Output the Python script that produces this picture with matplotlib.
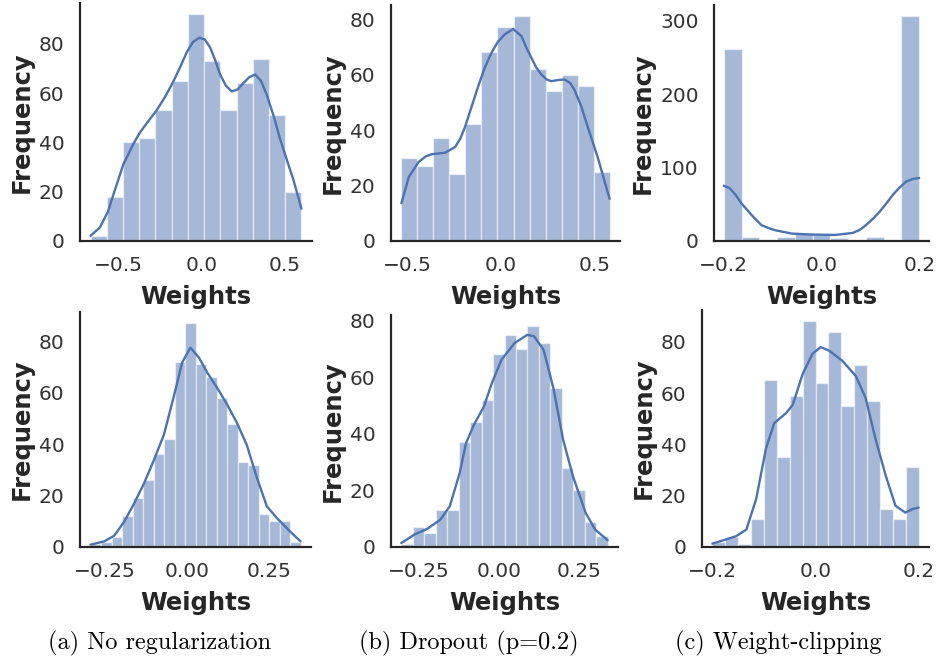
import numpy as np
import matplotlib.pyplot as plt
import seaborn as sns

sns.set_theme(style="white")

# histogram counts (top row, then bottom row)
counts_a_top = [2, 18, 40, 42, 53, 65, 92, 73, 53, 64, 74, 51, 20]
counts_b_top = [30, 27, 37, 24, 42, 68, 77, 81, 62, 54, 60, 56, 25]
counts_c_top = [261, 5, 2, 6, 11, 9, 4, 2, 5, 1, 306]
counts_a_bot = [1, 2, 4, 12, 19, 26, 36, 42, 72, 87, 71, 66, 58, 48, 33, 32, 13, 10, 10, 2]
counts_b_bot = [1, 7, 5, 13, 13, 37, 44, 52, 68, 75, 70, 78, 72, 56, 28, 20, 9, 4]
counts_c_bot = [2, 4, 1, 11, 65, 35, 59, 88, 64, 84, 55, 71, 57, 15, 11, 31]

# data range of each histogram (min, max weight)
range_a_top = (-0.665, 0.600)
range_b_top = (-0.530, 0.581)
range_c_top = (-0.200, 0.200)
range_a_bot = (-0.293, 0.344)
range_b_bot = (-0.306, 0.341)
range_c_bot = (-0.200, 0.200)

# kde curves
kde_a_top_x = [-0.665, -0.609, -0.560, -0.529, -0.469, -0.409, -0.369, -0.320, -0.269, -0.218,
               -0.168, -0.128, -0.088, -0.050, -0.012, 0.020, 0.052, 0.082, 0.112, 0.147,
               0.182, 0.217, 0.252, 0.287, 0.322, 0.357, 0.392, 0.432, 0.472, 0.512,
               0.552, 0.600]
kde_a_top_y = [2.1, 5.5, 12.0, 18.6, 31.0, 39.3, 44.0, 48.5, 53.0, 58.5,
               64.8, 70.5, 76.6, 80.8, 82.5, 81.8, 78.6, 73.5, 67.6, 63.0,
               60.7, 61.5, 64.1, 66.5, 67.6, 65.0, 59.3, 51.0, 41.4, 33.0,
               24.8, 13.1]

kde_b_top_x = [-0.530, -0.491, -0.438, -0.400, -0.367, -0.297, -0.243, -0.215, -0.190, -0.155,
               -0.120, -0.085, -0.049, -0.015, 0.022, 0.066, 0.110, 0.135, 0.163, 0.190,
               0.217, 0.245, 0.270, 0.305, 0.340, 0.370, 0.393, 0.430, 0.464, 0.517, 0.581]
kde_b_top_y = [13.6, 23.0, 28.5, 30.5, 31.3, 31.8, 33.9, 37.0, 41.2, 48.5,
               55.8, 62.5, 67.9, 71.8, 74.5, 76.4, 73.9, 70.0, 66.1, 62.5,
               60.0, 58.2, 57.6, 58.0, 58.2, 57.0, 54.5, 48.5, 41.2, 30.3, 15.2]

kde_c_top_x = [-0.200, -0.188, -0.176, -0.164, -0.143, -0.123, -0.108, -0.095, -0.061, -0.019,
               0.029, 0.064, 0.078, 0.091, 0.105, 0.119, 0.133, 0.146, 0.160, 0.174,
               0.187, 0.200]
kde_c_top_y = [75.2, 72.0, 63.0, 51.4, 35.3, 21.6, 17.5, 14.7, 10.1, 8.7,
               8.3, 11.0, 15.0, 21.6, 30.0, 39.9, 51.5, 62.8, 73.0, 81.2,
               84.5, 85.8]

kde_a_bot_x = [-0.293, -0.251, -0.221, -0.190, -0.160, -0.130, -0.100, -0.070, -0.040, -0.015,
               0.010, 0.036, 0.061, 0.091, 0.121, 0.151, 0.181, 0.212, 0.242, 0.272, 0.312, 0.344]
kde_a_bot_y = [0.9, 2.2, 4.4, 10.0, 17.1, 24.9, 34.0, 43.8, 58.7, 71.7,
               77.5, 73.6, 67.8, 61.9, 55.5, 48.3, 39.7, 26.8, 15.8, 11.3, 6.1, 2.2]

kde_b_bot_x = [-0.306, -0.265, -0.225, -0.184, -0.154, -0.123, -0.103, -0.078, -0.047, -0.022,
               0.008, 0.049, 0.089, 0.110, 0.140, 0.171, 0.201, 0.232, 0.272, 0.302, 0.341]
kde_b_bot_y = [1.4, 4.4, 6.4, 9.6, 14.4, 26.1, 36.7, 43.2, 49.6, 57.9,
               66.1, 72.0, 74.9, 74.4, 69.6, 56.0, 38.0, 25.0, 12.0, 6.1, 2.4]

kde_c_bot_x = [-0.200, -0.179, -0.154, -0.134, -0.115, -0.096, -0.080, -0.057, -0.044, -0.025,
               -0.006, 0.010, 0.026, 0.052, 0.078, 0.097, 0.116, 0.136, 0.155, 0.174, 0.187, 0.200]
kde_c_bot_y = [1.3, 2.6, 4.2, 6.8, 18.7, 38.4, 48.3, 52.2, 55.5, 67.4,
               75.3, 77.9, 76.6, 72.6, 66.7, 58.2, 42.4, 27.9, 16.1, 13.4, 14.7, 15.4]

xticks_top = [[-0.5, 0.0, 0.5], [-0.5, 0.0, 0.5], [-0.2, 0.0, 0.2]]
xticks_bot = [[-0.25, 0.0, 0.25], [-0.25, 0.0, 0.25], [-0.2, 0.0, 0.2]]
xfmt_top = ["{:.1f}", "{:.1f}", "{:.1f}"]
xfmt_bot = ["{:.2f}", "{:.2f}", "{:.1f}"]

captions = ["(a) No regularization", "(b) Dropout (p=0.2)", "(c) Weight-clipping"]

panels = [
    (counts_a_top, range_a_top, kde_a_top_x, kde_a_top_y, xticks_top[0], xfmt_top[0]),
    (counts_b_top, range_b_top, kde_b_top_x, kde_b_top_y, xticks_top[1], xfmt_top[1]),
    (counts_c_top, range_c_top, kde_c_top_x, kde_c_top_y, xticks_top[2], xfmt_top[2]),
    (counts_a_bot, range_a_bot, kde_a_bot_x, kde_a_bot_y, xticks_bot[0], xfmt_bot[0]),
    (counts_b_bot, range_b_bot, kde_b_bot_x, kde_b_bot_y, xticks_bot[1], xfmt_bot[1]),
    (counts_c_bot, range_c_bot, kde_c_bot_x, kde_c_bot_y, xticks_bot[2], xfmt_bot[2]),
]

# axes boxes in pixels: left, right, top, bottom
W, H = 936, 658
boxes = [
    (80, 312, 3, 241), (391, 620, 5, 241), (714, 929, 5, 241),
    (80, 311, 312, 547), (391, 618, 315, 547), (702, 929, 310, 547),
]

color = "#4c72b0"
fig = plt.figure(figsize=(W / 100, H / 100), dpi=100)

for (counts, rng, kx, ky, ticks, fmt), (l, r, t, b) in zip(panels, boxes):
    ax = fig.add_axes([l / W, 1 - b / H, (r - l) / W, (b - t) / H])
    edges = np.linspace(rng[0], rng[1], len(counts) + 1)
    ax.bar(edges[:-1], counts, width=np.diff(edges), align="edge",
           color=color, alpha=0.5, edgecolor="white", linewidth=1)
    ax.plot(kx, ky, color=color, linewidth=1.7)
    ax.set_ylim(0, max(counts) * 1.05)
    ax.set_xticks(ticks)
    ax.set_xticklabels([fmt.format(v).replace("-", "\u2212") for v in ticks])
    ax.tick_params(labelsize=14.5, colors="#333333", pad=5)
    ax.set_xlabel("Weights", fontsize=17.5, fontweight="bold", color="#262626", labelpad=7)
    ax.set_ylabel("Frequency", fontsize=17.5, fontweight="bold", color="#262626", labelpad=4)
    for s in ["left", "bottom"]:
        ax.spines[s].set_color("#262626")
        ax.spines[s].set_linewidth(1.6)
    sns.despine(ax=ax)

for cap, cx in zip(captions, [160, 469, 778]):
    fig.text(cx / W, 1 - 643 / H, cap, ha="center", va="center",
             fontsize=17.5, family="cmr10", color="black")

fig.savefig("out.png", dpi=100)
